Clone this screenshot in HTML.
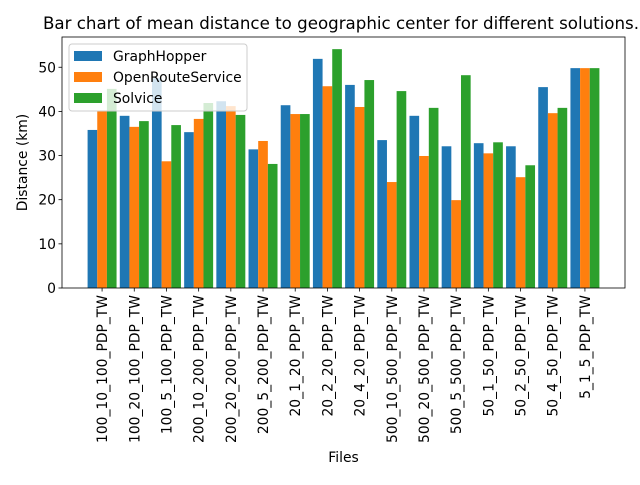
<!DOCTYPE html>
<html><head><meta charset="utf-8"><style>
body{margin:0;background:#fff;}
svg text{font-family:"DejaVu Sans","Liberation Sans",sans-serif;fill:#000;}
</style></head><body>
<svg id="chart" width="640" height="480" xmlns="http://www.w3.org/2000/svg">
<text x="341" y="29" font-size="16.67" text-anchor="middle">Bar chart of mean distance to geographic center for different solutions.</text>
<g id="bars"></g>
<g id="axes"></g>
</svg>
<script>
const categories=["100_10_100_PDP_TW","100_20_100_PDP_TW","100_5_100_PDP_TW","200_10_200_PDP_TW","200_20_200_PDP_TW","200_5_200_PDP_TW","20_1_20_PDP_TW","20_2_20_PDP_TW","20_4_20_PDP_TW","500_10_500_PDP_TW","500_20_500_PDP_TW","500_5_500_PDP_TW","50_1_50_PDP_TW","50_2_50_PDP_TW","50_4_50_PDP_TW","5_1_5_PDP_TW"];
const graphHopper=[35.8,39.0,47.5,35.3,42.3,31.4,41.4,51.9,46.0,33.5,39.0,32.1,32.8,32.1,45.5,49.8];
const openRouteService=[40.0,36.5,28.7,38.3,41.2,33.3,39.4,45.7,41.0,24.0,29.9,19.9,30.5,25.1,39.6,49.8];
const solvice=[45.1,37.8,36.9,41.9,39.2,28.1,39.4,54.1,47.1,44.6,40.8,48.2,33.0,27.8,40.8,49.8];
const yTicks=[0,10,20,30,40,50];
const seriesNames=["GraphHopper","OpenRouteService","Solvice"];

const NS="http://www.w3.org/2000/svg";
const L=62,R=625,T=37,B=288;
const FS=13.89;
const colors=["#1f77b4","#ff7f0e","#2ca02c"];
const xmin=-0.45-0.795, xmax=15.45+0.795;
function X(v){return L+(v-xmin)/(xmax-xmin)*(R-L);}
function Y(v){return B-v*4.415;}
function mk(tag,attrs,parent){const e=document.createElementNS(NS,tag);for(const k in attrs)e.setAttribute(k,attrs[k]);parent.appendChild(e);return e;}
const bars=document.getElementById('bars'),axes=document.getElementById('axes');
const series=[graphHopper,openRouteService,solvice];
const w=0.3;
series.forEach((s,si)=>{s.forEach((v,i)=>{
  const x0=X(i+(si-1)*w-w/2),x1=X(i+(si-1)*w+w/2);
  const r=mk('rect',{x:x0,y:Y(v),width:x1-x0,height:B-Y(v),fill:colors[si]},bars);
  
  
});});
const sp=mk('rect',{x:L,y:T,width:R-L,height:B-T,fill:'none',stroke:'#000','stroke-width':0.8},axes);


yTicks.forEach(t=>{
  mk('line',{x1:L-3.5,x2:L,y1:Y(t),y2:Y(t),stroke:'#000','stroke-width':0.8},axes);
  const tx=mk('text',{x:L-6,y:Y(t)+5,'font-size':FS,'text-anchor':'end'},axes);
  tx.textContent=t;
  
  
});
categories.forEach((c,i)=>{
  const x=X(i);
  mk('line',{x1:x,x2:x,y1:B,y2:B+3.5,stroke:'#000','stroke-width':0.8},axes);
  const tx=mk('text',{x:0,y:0,'font-size':FS,'text-anchor':'end',transform:`translate(${x+5},${B+7}) rotate(-90)`},axes);
  tx.textContent=c;
  
  
});
const xl=mk('text',{x:(L+R)/2,y:462,'font-size':FS,'text-anchor':'middle'},axes);
xl.textContent='Files';


const yl=mk('text',{x:0,y:0,'font-size':FS,'text-anchor':'middle',transform:`translate(27,${(T+B)/2}) rotate(-90)`},axes);
yl.textContent='Distance (km)';


const lg=mk('g',{},axes);


mk('rect',{x:69,y:44,width:178,height:67,rx:3,fill:'#fff','fill-opacity':0.8,stroke:'#ccc','stroke-width':1},lg);
seriesNames.forEach((n,i)=>{
  const yy=51+i*21;
  mk('rect',{x:74,y:yy,width:28,height:10,fill:colors[i]},lg);
  const tx=mk('text',{x:113,y:yy+10,'font-size':FS},lg);
  tx.textContent=n;
  
  
});
</script>
</body></html>
